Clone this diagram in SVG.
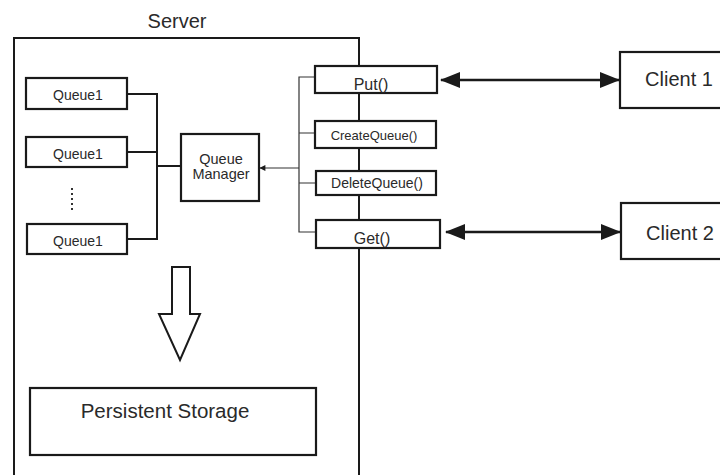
<svg xmlns="http://www.w3.org/2000/svg" width="720" height="475" viewBox="0 0 720 475">
<defs>
<style>
.box{fill:#fff;stroke:#1a1a1a;stroke-width:2.2}
.ln{fill:none;stroke:#1a1a1a;stroke-width:2}
.thin{fill:none;stroke:#333;stroke-width:1.2}
.t{font-family:"Liberation Sans",Arial,sans-serif;fill:#2a2a2a;text-anchor:middle}
.big{stroke:#1a1a1a;stroke-width:2.5;fill:none}
</style>
<marker id="ah" viewBox="0 0 10 10" refX="9" refY="5" markerWidth="8" markerHeight="6" markerUnits="userSpaceOnUse" orient="auto">
<path d="M0,0 L10,5 L0,10 z" fill="#1a1a1a"/>
</marker>
<marker id="bh" viewBox="0 0 20 16" refX="19" refY="8" markerWidth="20" markerHeight="16" markerUnits="userSpaceOnUse" orient="auto-start-reverse">
<path d="M0,0 L20,8 L0,16 z" fill="#1a1a1a"/>
</marker>
</defs>
<rect width="720" height="475" fill="#fff"/>

<g id="server">
<path class="ln" d="M14,480 V38 H359 V480"/>
<text class="t" x="177" y="28" font-size="20">Server</text>
</g>

<g id="connectors">
<path class="ln" d="M127,94 H157 V239 H127 M127,152 H157 M157,166 H181"/>
<path class="thin" d="M315,77 H299 V232 H316 M299,133 H315 M299,183 H316"/>
<line class="thin" x1="299" y1="168" x2="260" y2="168" marker-end="url(#ah)"/>
<line class="big" x1="441" y1="80" x2="619" y2="80" marker-start="url(#bh)" marker-end="url(#bh)"/>
<line class="big" x1="446" y1="232" x2="620" y2="232" marker-start="url(#bh)" marker-end="url(#bh)"/>
</g>

<g id="queue1a"><rect class="box" x="26" y="78" width="101" height="31"/><text class="t" x="78" y="100" font-size="14">Queue1</text></g>
<g id="queue1b"><rect class="box" x="26" y="137" width="101" height="30"/><text class="t" x="78" y="159" font-size="14">Queue1</text></g>
<g id="dots"><line x1="72" y1="188" x2="72" y2="213" stroke="#333" stroke-width="2" stroke-dasharray="2,3"/></g>
<g id="queue1c"><rect class="box" x="27" y="224" width="100" height="30"/><text class="t" x="78" y="246" font-size="14">Queue1</text></g>

<g id="queueManager"><rect class="box" x="181" y="134" width="78" height="67"/><text class="t" x="221" y="164" font-size="14.5">Queue</text><text class="t" x="221" y="179" font-size="14.5">Manager</text></g>

<g id="put"><rect class="box" x="315" y="66" width="122" height="27"/><text class="t" x="371" y="90" font-size="16">Put()</text></g>
<g id="createQueue"><rect class="box" x="315" y="121" width="121" height="27"/><text class="t" x="374" y="140" font-size="13">CreateQueue()</text></g>
<g id="deleteQueue"><rect class="box" x="316" y="171" width="120" height="24"/><text class="t" x="377" y="188" font-size="14">DeleteQueue()</text></g>
<g id="get"><rect class="box" x="316" y="220" width="124" height="28"/><text class="t" x="372" y="244" font-size="16">Get()</text></g>

<g id="vline"><path class="ln" d="M359,93 V121 M359,148 V171 M359,195 V220 M359,248 V480"/></g>

<g id="client1"><rect class="box" x="620" y="52" width="110" height="56"/><text class="t" x="679" y="86" font-size="20">Client 1</text></g>
<g id="client2"><rect class="box" x="621" y="203" width="110" height="56"/><text class="t" x="680" y="240" font-size="20">Client 2</text></g>

<g id="bigArrow"><path d="M172,267 H190 V314 H200 L180,360 L159,314 H172 Z" fill="#fff" stroke="#1a1a1a" stroke-width="2"/></g>

<g id="persistentStorage"><rect class="box" x="30" y="388" width="286" height="67"/><text class="t" x="165" y="418" font-size="20.5">Persistent Storage</text></g>
</svg>
